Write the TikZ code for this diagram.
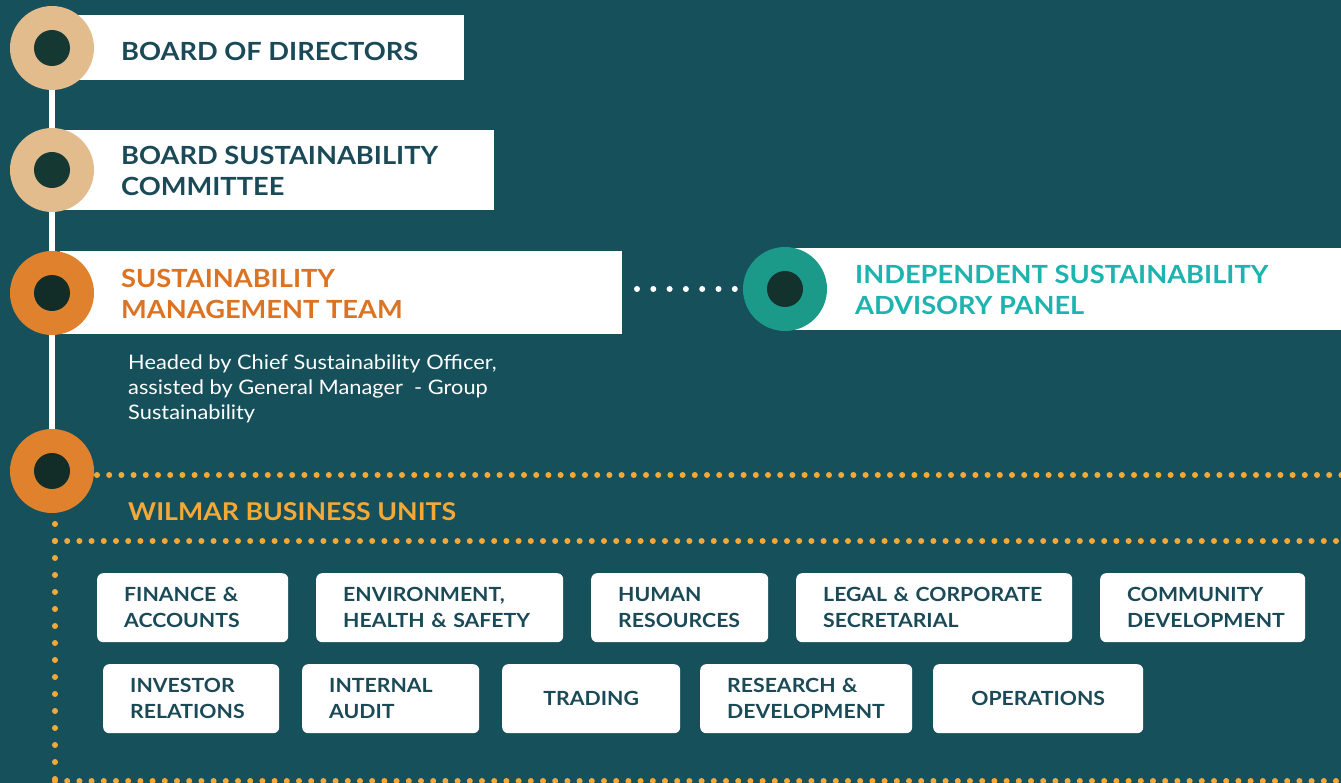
\documentclass[tikz,border=0pt]{standalone}
\usepackage{fontspec}
\setmainfont{Lato}[FakeStretch=1.09]
\definecolor{bg}{HTML}{15505B}
\definecolor{tan}{HTML}{E3BC8D}
\definecolor{darkin}{HTML}{163832}
\definecolor{orng}{HTML}{E0822D}
\definecolor{orngtxt}{HTML}{DC7323}
\definecolor{tealc}{HTML}{1C9A89}
\definecolor{tealtxt}{HTML}{1DB3AE}
\definecolor{dotyel}{HTML}{F4A838}
\definecolor{navy}{HTML}{1A4A57}
\begin{document}
\begin{tikzpicture}[x=1pt,y=-1pt,
  disc/.style={circle,minimum size=84pt,inner sep=0pt},
  hole/.style={circle,minimum size=36pt,inner sep=0pt},
  band/.style={fill=white,anchor=north west,inner sep=0pt},
  head/.style={anchor=base west,inner sep=0pt,align=left,font=\fontsize{25}{31.5}\selectfont\bfseries},
  ubox/.style={fill=white,rounded corners=6pt,anchor=north west,inner ysep=0pt,inner xsep=27pt,minimum height=69pt,align=left,text=navy,font=\fontsize{19.5}{26}\selectfont\bfseries},
  ydots/.style={dotyel,line width=6pt,line cap=round,dash pattern=on 0pt off 12.2pt},
  vdots/.style={dotyel,line width=6pt,line cap=round,dash pattern=on 0pt off 17pt},
  wdots/.style={white,line width=6pt,line cap=round,dash pattern=on 0pt off 16.3pt}]
\useasboundingbox (0,0) rectangle (1341,783);
\fill[bg] (0,0) rectangle (1341,783);
% bands
\node[band,minimum width=404pt,minimum height=65pt] (b1) at (60,15) {};
\node[band,minimum width=434pt,minimum height=80pt] (b2) at (60,130) {};
\node[band,minimum width=562pt,minimum height=83pt] (b3) at (60,251) {};
\node[band,minimum width=551pt,minimum height=82pt] (b4) at (790,248) {};
% circles
\node[disc] (c1) at (52,48) {};
\node[disc] (c2) at (52,170) {};
\node[disc] (c3) at (52,293) {};
\node[disc] (c5) at (52,471) {};
\draw[white,line width=6pt] (c1.center) -- (c5.center);
\node[disc,fill=tan] at (c1) {};
\node[disc,fill=tan] at (c2) {};
\node[disc,fill=orng] at (c3) {};
\node[disc,fill=orng] at (c5) {};
\node[hole,fill=darkin] at (c1) {};
\node[hole,fill=darkin] at (c2) {};
\node[hole,fill=darkin!80!black] at (c3) {};
\node[hole,fill=darkin!80!black] at (c5) {};
\node[disc,fill=tealc] (c4) at (785,289) {};
\node[hole,fill=darkin!90!black] at (c4) {};
% headings (base = last line)
\node[head,text=navy] (t1) at (121,61) {BOARD OF DIRECTORS};
\node[head,text=navy] (t2) at (121,196) {BOARD SUSTAINABILITY\\COMMITTEE};
\node[head,text=orngtxt] (t3) at (121,319) {SUSTAINABILITY\\MANAGEMENT TEAM};
\node[head,text=tealtxt] (t4) at (855,315) {INDEPENDENT SUSTAINABILITY\\ADVISORY PANEL};
\node[anchor=base west,inner sep=0pt,align=left,text=white,font=\fontsize{20}{25}\selectfont] (desc) at (128,419) {Headed by Chief Sustainability Officer,\\assisted by General Manager\ \ - Group\\Sustainability};
\node[head,text=dotyel,font=\fontsize{24.5}{30}\selectfont\bfseries] (wbu) at (128,520) {WILMAR BUSINESS UNITS};
% connectors
\coordinate (w1) at (637,289);
\coordinate (w2) at (738,289);
\draw[wdots] (w1) -- (w2);
\coordinate (o1) at (97,475);
\coordinate (o2) at (1345,475);
\draw[ydots] (o1) -- (o2);
\coordinate (v1) at (55,524);
\coordinate (v2) at (55,781);
\draw[vdots] (v1) -- (v2);
\coordinate (h1) at (55,541);
\coordinate (h2) at (1345,541);
\draw[ydots] (h1) -- (h2);
\coordinate (g1) at (55,781);
\coordinate (g2) at (1345,781);
\draw[ydots] (g1) -- (g2);
% unit boxes row 1
\node[ubox,text width=137pt,minimum width=191pt] (u1) at (97,573) {FINANCE \&\\ACCOUNTS};
\node[ubox,text width=193pt,minimum width=247pt] (u2) at (316,573) {ENVIRONMENT,\\HEALTH \& SAFETY};
\node[ubox,text width=123pt,minimum width=177pt] (u3) at (591,573) {HUMAN\\RESOURCES};
\node[ubox,text width=222pt,minimum width=276pt] (u4) at (796,573) {LEGAL \& CORPORATE\\SECRETARIAL};
\node[ubox,text width=151pt,minimum width=205pt] (u5) at (1100,573) {COMMUNITY\\DEVELOPMENT};
% row 2
\node[ubox,text width=122pt,minimum width=176pt] (u6) at (103,664) {INVESTOR\\RELATIONS};
\node[ubox,text width=123pt,minimum width=177pt] (u7) at (302,664) {INTERNAL\\AUDIT};
\node[ubox,text width=124pt,minimum width=178pt,align=center] (u8) at (502,664) {TRADING};
\node[ubox,text width=158pt,minimum width=212pt] (u9) at (700,664) {RESEARCH \&\\DEVELOPMENT};
\node[ubox,text width=156pt,minimum width=210pt,align=center] (u10) at (933,664) {OPERATIONS};
\end{tikzpicture}
\end{document}
